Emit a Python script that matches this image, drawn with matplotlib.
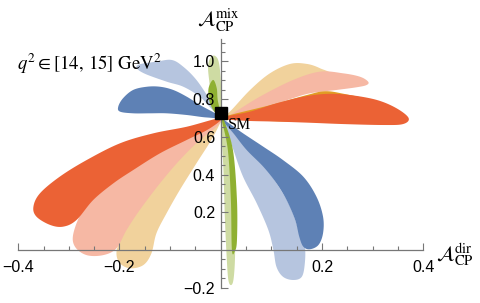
import numpy as np
import matplotlib
matplotlib.use("Agg")
import matplotlib.pyplot as plt

plt.rcParams['mathtext.fontset'] = 'stix'
plt.rcParams['font.family'] = ['Liberation Sans', 'DejaVu Sans']

# petal outlines (A_dir, A_mix)
tan_left = [(0.0, 0.70), (-0.041, 0.621), (-0.110, 0.477), (-0.169, 0.265), (-0.199, 0.053),
            (-0.206, -0.018), (-0.199, -0.071), (-0.179, -0.097), (-0.153, -0.080), (-0.137, -0.018),
            (-0.127, 0.089), (-0.107, 0.195), (-0.081, 0.318), (-0.048, 0.460), (-0.015, 0.601)]
tan_right = [(0.0, 0.70), (0.018, 0.734), (0.058, 0.849), (0.097, 0.937), (0.137, 0.987),
             (0.170, 0.987), (0.196, 0.964), (0.216, 0.928), (0.156, 0.875), (0.077, 0.78),
             (0.018, 0.71)]
salmon_left = [(0.0, 0.70), (-0.067, 0.631), (-0.16, 0.53), (-0.219, 0.40), (-0.238, 0.309),
               (-0.272, 0.212), (-0.291, 0.089), (-0.288, 0.018), (-0.265, -0.027), (-0.232, -0.027),
               (-0.206, 0.009), (-0.186, 0.106), (-0.160, 0.212), (-0.120, 0.354), (-0.081, 0.477),
               (-0.041, 0.584), (-0.008, 0.654)]
salmon_right = [(0.0, 0.70), (0.018, 0.716), (0.077, 0.813), (0.143, 0.902), (0.196, 0.946),
                (0.242, 0.937), (0.275, 0.919), (0.291, 0.893), (0.288, 0.875), (0.268, 0.863),
                (0.229, 0.849), (0.176, 0.831), (0.137, 0.80), (0.077, 0.745), (0.018, 0.703)]
orange_right = [(0.0, 0.70), (0.10, 0.77), (0.17, 0.822), (0.205, 0.842), (0.24, 0.83),
                (0.30, 0.79), (0.33, 0.72), (0.30, 0.68), (0.15, 0.68), (0.05, 0.69)]
red_left = [(0.0, 0.70), (-0.067, 0.654), (-0.133, 0.619), (-0.199, 0.566), (-0.265, 0.477),
            (-0.318, 0.389), (-0.357, 0.301), (-0.370, 0.230), (-0.364, 0.177), (-0.337, 0.133),
            (-0.311, 0.124), (-0.285, 0.159), (-0.252, 0.265), (-0.212, 0.354), (-0.173, 0.424),
            (-0.120, 0.513), (-0.067, 0.584), (-0.021, 0.646)]
red_right = [(0.0, 0.70), (0.058, 0.734), (0.110, 0.778), (0.163, 0.813), (0.209, 0.828),
             (0.255, 0.822), (0.308, 0.796), (0.347, 0.752), (0.371, 0.700), (0.360, 0.668),
             (0.321, 0.663), (0.242, 0.668), (0.176, 0.675), (0.110, 0.681), (0.044, 0.686)]
ltblue_left = [(0.0, 0.71), (-0.021, 0.796), (-0.048, 0.902), (-0.074, 0.972), (-0.097, 1.008),
               (-0.127, 0.999), (-0.160, 0.985), (-0.166, 0.965), (-0.150, 0.935), (-0.107, 0.893),
               (-0.074, 0.866), (-0.041, 0.812), (-0.015, 0.74)]
ltblue_right = [(0.0, 0.70), (0.008, 0.663), (0.025, 0.531), (0.044, 0.389), (0.071, 0.248),
                (0.094, 0.106), (0.104, 0.0), (0.110, -0.089), (0.123, -0.142), (0.143, -0.159),
                (0.160, -0.142), (0.166, -0.071), (0.166, 0.018), (0.156, 0.089), (0.137, 0.230),
                (0.110, 0.354), (0.077, 0.477), (0.038, 0.584), (0.015, 0.654)]
blue_left = [(0.0, 0.705), (-0.041, 0.769), (-0.067, 0.813), (-0.094, 0.849), (-0.120, 0.866),
             (-0.146, 0.866), (-0.173, 0.849), (-0.193, 0.805), (-0.2025, 0.760), (-0.199, 0.734),
             (-0.173, 0.725), (-0.140, 0.725), (-0.107, 0.725), (-0.067, 0.716), (-0.028, 0.703)]
blue_right = [(0.0, 0.70), (0.044, 0.619), (0.084, 0.548), (0.123, 0.477), (0.163, 0.389),
              (0.189, 0.283), (0.202, 0.177), (0.202, 0.089), (0.193, 0.027), (0.176, 0.004),
              (0.163, 0.018), (0.155, 0.071), (0.147, 0.159), (0.130, 0.265), (0.110, 0.354),
              (0.084, 0.442), (0.051, 0.531), (0.025, 0.619)]
ltgreen_up = [(0.0, 0.71), (-0.017, 0.796), (-0.023, 0.902), (-0.025, 0.981), (-0.019, 1.024),
              (-0.011, 1.029), (-0.004, 0.997), (0.0, 0.902), (0.001, 0.769)]
ltgreen_down = [(0.0, 0.70), (0.005, 0.442), (0.008, 0.177), (0.012, -0.053), (0.015, -0.159),
                (0.020, -0.186), (0.025, -0.159), (0.028, -0.053), (0.028, 0.089), (0.025, 0.354),
                (0.018, 0.566), (0.008, 0.663)]
green_up = [(-0.003, 0.71), (-0.015, 0.743), (-0.023, 0.796), (-0.024, 0.859), (-0.015, 0.902),
            (-0.008, 0.859), (-0.006, 0.796), (0.0, 0.72)]
green_down = [(0.002, 0.69), (0.014, 0.531), (0.020, 0.265), (0.022, 0.0), (0.028, -0.005),
              (0.032, 0.053), (0.032, 0.265), (0.024, 0.531), (0.006, 0.69)]

sm_point = (0.0, 0.725)

layers = [
    (tan_left, '#f1d29c'), (tan_right, '#f1d29c'),
    (salmon_left, '#f6b8a4'), (salmon_right, '#f6b8a4'),
    (orange_right, '#e19c24'),
    (red_left, '#eb6235'), (red_right, '#eb6235'),
    (ltblue_left, '#b6c5df'), (ltblue_right, '#b6c5df'),
    (blue_left, '#5e81b5'), (blue_right, '#5e81b5'),
    (ltgreen_up, '#cedba3'), (ltgreen_down, '#cedba3'),
    (green_up, '#8fb032'), (green_down, '#8fb032'),
]


def smooth(pts, n=12):
    # closed Catmull-Rom curve through the outline points
    p = np.asarray(pts, dtype=float)
    t = np.linspace(0, 1, n, endpoint=False)[:, None]
    out = []
    for i in range(len(p)):
        p0, p1, p2, p3 = p[i - 1], p[i], p[(i + 1) % len(p)], p[(i + 2) % len(p)]
        out.append(0.5 * (2 * p1 + (p2 - p0) * t + (2 * p0 - 5 * p1 + 4 * p2 - p3) * t ** 2
                          + (3 * p1 - p0 - 3 * p2 + p3) * t ** 3))
    return np.vstack(out)


fig = plt.figure(figsize=(4.8, 3.03), dpi=100)
ax = fig.add_axes([0, 0, 1, 1])
ax.set_xlim(-0.436, 0.512)
ax.set_ylim(-0.281, 1.326)

for pts, col in layers:
    c = smooth(pts)
    ax.fill(c[:, 0], c[:, 1], color=col, lw=0, zorder=1)

ax.plot(*sm_point, 's', color='black', ms=8, zorder=5)
ax.text(0.014, 0.663, 'SM', fontsize=11.5, family='Liberation Serif', va='center', ha='left', zorder=5)

# axes through the origin
for s in ['top', 'right']:
    ax.spines[s].set_visible(False)
ax.spines['left'].set_position(('data', 0))
ax.spines['bottom'].set_position(('data', 0))
ax.spines['left'].set_bounds(-0.2, 1.12)
ax.spines['bottom'].set_bounds(-0.4, 0.4)
for s in ['left', 'bottom']:
    ax.spines[s].set_color('#777777')
    ax.spines[s].set_linewidth(0.9)
    ax.spines[s].set_zorder(3)

ax.set_xticks([-0.4, -0.2, 0.2, 0.4])
ax.set_xticklabels(['−0.4', '−0.2', '0.2', '0.4'])
ax.set_yticks([-0.2, 0.2, 0.4, 0.6, 0.8, 1.0])
ax.set_yticklabels(['−0.2', '0.2', '0.4', '0.6', '0.8', '1.0'])
xminor = [v for v in np.round(np.arange(-0.4, 0.401, 0.05), 2) if round(v / 0.2, 3) % 1 != 0]
yminor = [v for v in np.round(np.arange(-0.2, 1.101, 0.05), 2) if round(v / 0.2, 3) % 1 != 0]
ax.set_xticks(xminor, minor=True)
ax.set_yticks(yminor, minor=True)
ax.tick_params(which='both', direction='in', color='#777777', width=0.8, labelsize=11.5)
ax.tick_params(which='major', length=5)
ax.tick_params(which='minor', length=3)
ax.tick_params(axis='x', pad=7)
ax.tick_params(axis='y', pad=4)

ax.text(-0.4026, 0.99, r'$q^2 \in [14,\, 15]\ \mathrm{GeV}^2$', fontsize=13.5, ha='left', va='center')
ax.text(-0.047, 1.22, r'$\mathcal{A}_{\mathrm{CP}}^{\mathrm{mix}}$', fontsize=15, ha='left', va='center')
ax.text(0.426, -0.02, r'$\mathcal{A}_{\mathrm{CP}}^{\mathrm{dir}}$', fontsize=15, ha='left', va='center')

fig.savefig('out.png', dpi=100)
